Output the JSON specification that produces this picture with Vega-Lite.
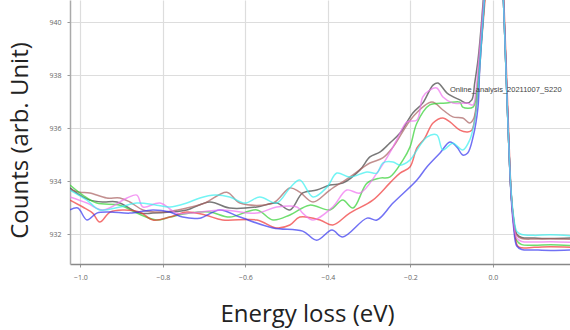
{
  "$schema": "https://vega.github.io/schema/vega-lite/v6.json",
  "width": 500,
  "height": 264,
  "autosize": "none",
  "padding": {"left": 70, "top": 0, "right": 0, "bottom": 66},
  "background": "white",
  "config": {"view": {"stroke": null}, "font": "Open Sans"},
  "datasets": {
    "spectra": [
      {"series":"black","energy":-1.025,"counts":933.74},{"series":"black","energy":-1.001,"counts":933.47},{"series":"black","energy":-0.977,"counts":933.28},{"series":"black","energy":-0.945,"counts":933.21},{"series":"black","energy":-0.911,"counts":933.21},{"series":"black","energy":-0.856,"counts":932.79},{"series":"black","energy":-0.824,"counts":932.79},{"series":"black","energy":-0.783,"counts":932.83},{"series":"black","energy":-0.742,"counts":932.91},{"series":"black","energy":-0.686,"counts":933.21},{"series":"black","energy":-0.638,"counts":932.98},{"series":"black","energy":-0.572,"counts":933.02},{"series":"black","energy":-0.524,"counts":933.17},{"series":"black","energy":-0.492,"counts":932.91},{"series":"black","energy":-0.461,"counts":933.55},{"series":"black","energy":-0.427,"counts":933.66},{"series":"black","energy":-0.395,"counts":933.85},{"series":"black","energy":-0.364,"counts":933.92},{"series":"black","energy":-0.322,"counts":934.42},{"series":"black","energy":-0.298,"counts":934.91},{"series":"black","energy":-0.274,"counts":935.09},{"series":"black","energy":-0.25,"counts":935.43},{"series":"black","energy":-0.225,"counts":935.81},{"series":"black","energy":-0.194,"counts":936.57},{"series":"black","energy":-0.17,"counts":936.94},{"series":"black","energy":-0.145,"counts":937.62},{"series":"black","energy":-0.133,"counts":937.7},{"series":"black","energy":-0.111,"counts":937.32},{"series":"black","energy":-0.08,"counts":937.06},{"series":"black","energy":-0.063,"counts":936.94},{"series":"black","energy":-0.051,"counts":937.06},{"series":"black","energy":-0.044,"counts":937.7},{"series":"black","energy":-0.036,"counts":938.57},{"series":"black","energy":-0.027,"counts":940.08},{"series":"black","energy":-0.017,"counts":942.34},
      {"series":"black","energy":-0.008,"counts":946},{"series":"black","energy":0.0,"counts":949},{"series":"black","energy":0.012,"counts":946},{"series":"black","energy":0.024,"counts":941.5},{"series":"black","energy":0.03,"counts":939.0},{"series":"black","energy":0.037,"counts":936.0},{"series":"black","energy":0.044,"counts":933.6},{"series":"black","energy":0.05,"counts":932.6},{"series":"black","energy":0.058,"counts":932.0},{"series":"black","energy":0.07,"counts":931.87},{"series":"black","energy":0.1,"counts":931.85},{"series":"black","energy":0.14,"counts":931.83},{"series":"black","energy":0.19,"counts":931.85},

      {"series":"brown","energy":-1.025,"counts":933.66},{"series":"brown","energy":-1.001,"counts":933.58},{"series":"brown","energy":-0.977,"counts":933.55},{"series":"brown","energy":-0.936,"counts":933.36},{"series":"brown","energy":-0.904,"counts":933.36},{"series":"brown","energy":-0.88,"counts":933.21},{"series":"brown","energy":-0.848,"counts":932.91},{"series":"brown","energy":-0.8,"counts":932.83},{"series":"brown","energy":-0.742,"counts":932.98},{"series":"brown","energy":-0.698,"counts":933.17},{"series":"brown","energy":-0.645,"counts":933.58},{"series":"brown","energy":-0.613,"counts":933.17},{"series":"brown","energy":-0.533,"counts":933.17},{"series":"brown","energy":-0.492,"counts":933.74},{"series":"brown","energy":-0.468,"counts":933.58},{"series":"brown","energy":-0.436,"counts":933.21},{"series":"brown","energy":-0.395,"counts":933.66},{"series":"brown","energy":-0.347,"counts":934.15},{"series":"brown","energy":-0.298,"counts":934.68},{"series":"brown","energy":-0.267,"counts":934.87},{"series":"brown","energy":-0.242,"counts":935.28},{"series":"brown","energy":-0.194,"counts":936.42},{"series":"brown","energy":-0.148,"counts":936.98},{"series":"brown","energy":-0.121,"counts":936.68},{"series":"brown","energy":-0.097,"counts":936.42},{"series":"brown","energy":-0.073,"counts":936.38},{"series":"brown","energy":-0.056,"counts":936.19},{"series":"brown","energy":-0.046,"counts":936.38},{"series":"brown","energy":-0.039,"counts":937.06},{"series":"brown","energy":-0.032,"counts":938.57},{"series":"brown","energy":-0.022,"counts":940.45},{"series":"brown","energy":-0.015,"counts":942.34},
      {"series":"brown","energy":-0.008,"counts":946},{"series":"brown","energy":0.0,"counts":949},{"series":"brown","energy":0.012,"counts":946},{"series":"brown","energy":0.024,"counts":941.5},{"series":"brown","energy":0.03,"counts":939.0},{"series":"brown","energy":0.037,"counts":936.0},{"series":"brown","energy":0.044,"counts":933.6},{"series":"brown","energy":0.05,"counts":932.6},{"series":"brown","energy":0.058,"counts":931.95},{"series":"brown","energy":0.07,"counts":931.83},{"series":"brown","energy":0.1,"counts":931.81},{"series":"brown","energy":0.14,"counts":931.82},{"series":"brown","energy":0.19,"counts":931.8},

      {"series":"green","energy":-1.025,"counts":933.85},{"series":"green","energy":-0.994,"counts":933.47},{"series":"green","energy":-0.96,"counts":933.17},{"series":"green","energy":-0.904,"counts":933.09},{"series":"green","energy":-0.863,"counts":932.79},{"series":"green","energy":-0.815,"counts":932.53},{"series":"green","energy":-0.783,"counts":932.64},{"series":"green","energy":-0.735,"counts":932.79},{"series":"green","energy":-0.686,"counts":932.83},{"series":"green","energy":-0.638,"counts":932.64},{"series":"green","energy":-0.572,"counts":932.91},{"series":"green","energy":-0.533,"counts":932.53},{"series":"green","energy":-0.492,"counts":932.72},{"series":"green","energy":-0.444,"counts":933.09},{"series":"green","energy":-0.395,"counts":932.91},{"series":"green","energy":-0.364,"counts":933.28},{"series":"green","energy":-0.339,"counts":932.98},{"series":"green","energy":-0.305,"counts":933.92},{"series":"green","energy":-0.274,"counts":934.11},{"series":"green","energy":-0.25,"counts":934.15},{"series":"green","energy":-0.218,"counts":934.79},{"series":"green","energy":-0.201,"counts":935.28},{"series":"green","energy":-0.184,"counts":936.19},{"series":"green","energy":-0.153,"counts":936.87},{"series":"green","energy":-0.112,"counts":936.94},{"series":"green","energy":-0.08,"counts":936.98},{"series":"green","energy":-0.073,"counts":936.79},{"series":"green","energy":-0.048,"counts":936.79},{"series":"green","energy":-0.039,"counts":937.43},{"series":"green","energy":-0.032,"counts":938.57},{"series":"green","energy":-0.022,"counts":940.45},{"series":"green","energy":-0.015,"counts":942.34},
      {"series":"green","energy":-0.008,"counts":946},{"series":"green","energy":0.0,"counts":949},{"series":"green","energy":0.012,"counts":946},{"series":"green","energy":0.024,"counts":941.5},{"series":"green","energy":0.03,"counts":939.0},{"series":"green","energy":0.037,"counts":936.0},{"series":"green","energy":0.044,"counts":933.6},{"series":"green","energy":0.05,"counts":932.5},{"series":"green","energy":0.058,"counts":931.75},{"series":"green","energy":0.07,"counts":931.6},{"series":"green","energy":0.1,"counts":931.58},{"series":"green","energy":0.14,"counts":931.6},{"series":"green","energy":0.19,"counts":931.57},

      {"series":"red","energy":-1.025,"counts":933.28},{"series":"red","energy":-0.994,"counts":933.02},{"series":"red","energy":-0.97,"counts":932.79},{"series":"red","energy":-0.953,"counts":932.45},{"series":"red","energy":-0.928,"counts":932.83},{"series":"red","energy":-0.897,"counts":932.91},{"series":"red","energy":-0.856,"counts":932.83},{"series":"red","energy":-0.824,"counts":932.53},{"series":"red","energy":-0.783,"counts":932.64},{"series":"red","energy":-0.742,"counts":932.83},{"series":"red","energy":-0.698,"counts":932.72},{"series":"red","energy":-0.655,"counts":932.53},{"series":"red","energy":-0.572,"counts":932.53},{"series":"red","energy":-0.524,"counts":932.23},{"series":"red","energy":-0.492,"counts":932.34},{"series":"red","energy":-0.468,"counts":932.64},{"series":"red","energy":-0.419,"counts":932.53},{"series":"red","energy":-0.388,"counts":932.34},{"series":"red","energy":-0.347,"counts":932.79},{"series":"red","energy":-0.291,"counts":933.28},{"series":"red","energy":-0.25,"counts":933.92},{"series":"red","energy":-0.225,"counts":934.3},{"series":"red","energy":-0.201,"counts":934.53},{"series":"red","energy":-0.184,"counts":935.25},{"series":"red","energy":-0.165,"counts":935.62},{"series":"red","energy":-0.145,"counts":936.19},{"series":"red","energy":-0.121,"counts":936.38},{"series":"red","energy":-0.104,"counts":936.23},{"series":"red","energy":-0.08,"counts":935.92},{"series":"red","energy":-0.061,"counts":935.85},{"series":"red","energy":-0.051,"counts":935.92},{"series":"red","energy":-0.041,"counts":936.68},{"series":"red","energy":-0.034,"counts":937.81},{"series":"red","energy":-0.027,"counts":939.32},{"series":"red","energy":-0.019,"counts":940.83},{"series":"red","energy":-0.012,"counts":942.34},
      {"series":"red","energy":-0.005,"counts":946},{"series":"red","energy":0.002,"counts":949},{"series":"red","energy":0.014,"counts":946},{"series":"red","energy":0.025,"counts":941.5},{"series":"red","energy":0.031,"counts":939.0},{"series":"red","energy":0.038,"counts":936.0},{"series":"red","energy":0.045,"counts":933.4},{"series":"red","energy":0.052,"counts":932.2},{"series":"red","energy":0.06,"counts":931.55},{"series":"red","energy":0.07,"counts":931.48},{"series":"red","energy":0.1,"counts":931.5},{"series":"red","energy":0.14,"counts":931.52},{"series":"red","energy":0.19,"counts":931.5},

      {"series":"blue","energy":-1.025,"counts":932.91},{"series":"blue","energy":-1.006,"counts":932.98},{"series":"blue","energy":-0.984,"counts":932.53},{"series":"blue","energy":-0.96,"counts":932.79},{"series":"blue","energy":-0.928,"counts":932.83},{"series":"blue","energy":-0.88,"counts":932.79},{"series":"blue","energy":-0.824,"counts":932.91},{"series":"blue","energy":-0.783,"counts":932.83},{"series":"blue","energy":-0.752,"counts":932.64},{"series":"blue","energy":-0.71,"counts":932.6},{"series":"blue","energy":-0.662,"counts":932.91},{"series":"blue","energy":-0.613,"counts":932.64},{"series":"blue","energy":-0.533,"counts":932.23},{"series":"blue","energy":-0.461,"counts":932.11},{"series":"blue","energy":-0.427,"counts":931.77},{"series":"blue","energy":-0.39,"counts":932.15},{"series":"blue","energy":-0.364,"counts":931.89},{"series":"blue","energy":-0.305,"counts":932.6},{"series":"blue","energy":-0.281,"counts":932.53},{"series":"blue","energy":-0.242,"counts":933.17},{"series":"blue","energy":-0.184,"counts":934.04},{"series":"blue","energy":-0.16,"counts":934.53},{"series":"blue","energy":-0.128,"counts":935.06},{"series":"blue","energy":-0.104,"counts":935.47},{"series":"blue","energy":-0.087,"counts":935.28},{"series":"blue","energy":-0.073,"counts":934.98},{"series":"blue","energy":-0.061,"counts":935.06},{"series":"blue","energy":-0.048,"counts":935.66},{"series":"blue","energy":-0.036,"counts":936.79},{"series":"blue","energy":-0.032,"counts":938.19},{"series":"blue","energy":-0.024,"counts":940.08},{"series":"blue","energy":-0.015,"counts":942.34},
      {"series":"blue","energy":-0.008,"counts":946},{"series":"blue","energy":0.0,"counts":949},{"series":"blue","energy":0.012,"counts":946},{"series":"blue","energy":0.024,"counts":941.5},{"series":"blue","energy":0.03,"counts":939.0},{"series":"blue","energy":0.037,"counts":936.0},{"series":"blue","energy":0.044,"counts":933.5},{"series":"blue","energy":0.05,"counts":932.3},{"series":"blue","energy":0.058,"counts":931.55},{"series":"blue","energy":0.07,"counts":931.42},{"series":"blue","energy":0.1,"counts":931.4},{"series":"blue","energy":0.14,"counts":931.38},{"series":"blue","energy":0.19,"counts":931.4},

      {"series":"magenta","energy":-1.025,"counts":933.4},{"series":"magenta","energy":-0.984,"counts":933.17},{"series":"magenta","energy":-0.945,"counts":932.91},{"series":"magenta","energy":-0.887,"counts":933.36},{"series":"magenta","energy":-0.863,"counts":933.47},{"series":"magenta","energy":-0.848,"counts":933.02},{"series":"magenta","energy":-0.807,"counts":933.17},{"series":"magenta","energy":-0.766,"counts":932.79},{"series":"magenta","energy":-0.735,"counts":932.79},{"series":"magenta","energy":-0.655,"counts":932.91},{"series":"magenta","energy":-0.572,"counts":932.79},{"series":"magenta","energy":-0.524,"counts":933.02},{"series":"magenta","energy":-0.475,"counts":933.02},{"series":"magenta","energy":-0.461,"counts":932.79},{"series":"magenta","energy":-0.436,"counts":932.53},{"series":"magenta","energy":-0.388,"counts":933.02},{"series":"magenta","energy":-0.354,"counts":933.66},{"series":"magenta","energy":-0.322,"counts":933.55},{"series":"magenta","energy":-0.281,"counts":934.3},{"series":"magenta","energy":-0.25,"counts":935.06},{"series":"magenta","energy":-0.233,"counts":935.55},{"series":"magenta","energy":-0.208,"counts":936.23},{"series":"magenta","energy":-0.184,"counts":936.3},{"series":"magenta","energy":-0.17,"counts":937.17},{"series":"magenta","energy":-0.153,"counts":937.43},{"series":"magenta","energy":-0.136,"counts":937.51},{"series":"magenta","energy":-0.121,"counts":937.17},{"series":"magenta","energy":-0.097,"counts":936.94},{"series":"magenta","energy":-0.063,"counts":936.94},{"series":"magenta","energy":-0.048,"counts":936.87},{"series":"magenta","energy":-0.041,"counts":937.43},{"series":"magenta","energy":-0.034,"counts":938.57},{"series":"magenta","energy":-0.024,"counts":940.45},{"series":"magenta","energy":-0.015,"counts":942.34},
      {"series":"magenta","energy":-0.008,"counts":946},{"series":"magenta","energy":0.0,"counts":949},{"series":"magenta","energy":0.012,"counts":946},{"series":"magenta","energy":0.024,"counts":941.5},{"series":"magenta","energy":0.03,"counts":939.0},{"series":"magenta","energy":0.037,"counts":936.0},{"series":"magenta","energy":0.044,"counts":933.6},{"series":"magenta","energy":0.05,"counts":932.5},{"series":"magenta","energy":0.058,"counts":931.85},{"series":"magenta","energy":0.07,"counts":931.72},{"series":"magenta","energy":0.1,"counts":931.7},{"series":"magenta","energy":0.14,"counts":931.71},{"series":"magenta","energy":0.19,"counts":931.69},

      {"series":"cyan","energy":-1.025,"counts":933.66},{"series":"cyan","energy":-0.984,"counts":933.28},{"series":"cyan","energy":-0.953,"counts":932.91},{"series":"cyan","energy":-0.904,"counts":933.02},{"series":"cyan","energy":-0.863,"counts":933.17},{"series":"cyan","energy":-0.815,"counts":933.09},{"series":"cyan","energy":-0.783,"counts":933.02},{"series":"cyan","energy":-0.742,"counts":933.17},{"series":"cyan","energy":-0.71,"counts":933.36},{"series":"cyan","energy":-0.674,"counts":933.47},{"series":"cyan","energy":-0.638,"counts":933.4},{"series":"cyan","energy":-0.601,"counts":933.17},{"series":"cyan","energy":-0.565,"counts":933.4},{"series":"cyan","energy":-0.524,"counts":933.17},{"series":"cyan","energy":-0.492,"counts":933.74},{"series":"cyan","energy":-0.468,"counts":934.04},{"series":"cyan","energy":-0.436,"counts":933.4},{"series":"cyan","energy":-0.402,"counts":933.77},{"series":"cyan","energy":-0.378,"counts":934.3},{"series":"cyan","energy":-0.347,"counts":934.15},{"series":"cyan","energy":-0.305,"counts":934.34},{"series":"cyan","energy":-0.281,"counts":934.3},{"series":"cyan","energy":-0.267,"counts":934.68},{"series":"cyan","energy":-0.242,"counts":934.72},{"series":"cyan","energy":-0.225,"counts":934.6},{"series":"cyan","energy":-0.201,"counts":934.79},{"series":"cyan","energy":-0.184,"counts":935.17},{"series":"cyan","energy":-0.16,"counts":935.66},{"series":"cyan","energy":-0.136,"counts":935.74},{"series":"cyan","energy":-0.121,"counts":935.17},{"series":"cyan","energy":-0.097,"counts":935.43},{"series":"cyan","energy":-0.073,"counts":935.17},{"series":"cyan","energy":-0.056,"counts":935.55},{"series":"cyan","energy":-0.044,"counts":936.3},{"series":"cyan","energy":-0.036,"counts":937.43},{"series":"cyan","energy":-0.029,"counts":938.94},{"series":"cyan","energy":-0.022,"counts":940.45},{"series":"cyan","energy":-0.015,"counts":942.34},
      {"series":"cyan","energy":-0.008,"counts":946},{"series":"cyan","energy":0.0,"counts":949},{"series":"cyan","energy":0.012,"counts":946},{"series":"cyan","energy":0.024,"counts":941.5},{"series":"cyan","energy":0.03,"counts":939.0},{"series":"cyan","energy":0.037,"counts":936.0},{"series":"cyan","energy":0.044,"counts":933.7},{"series":"cyan","energy":0.05,"counts":932.7},{"series":"cyan","energy":0.058,"counts":932.1},{"series":"cyan","energy":0.07,"counts":931.98},{"series":"cyan","energy":0.1,"counts":931.95},{"series":"cyan","energy":0.14,"counts":931.97},{"series":"cyan","energy":0.19,"counts":931.93}
    ],
    "note": [
      {"label": "Online_analysis_20211007_S220", "energy": -0.104, "counts": 937.45}
    ]
  },
  "layer": [
    {
      "data": {"name": "spectra"},
      "mark": {"type": "line", "clip": true, "interpolate": "catmull-rom", "strokeWidth": 1.5, "opacity": 0.7},
      "encoding": {
        "x": {
          "field": "energy", "type": "quantitative",
          "scale": {"domain": [-1.025, 0.187], "nice": false, "zero": false},
          "axis": {
            "values": [-1.0, -0.8, -0.6, -0.4, -0.2, 0.0],
            "format": ".1f",
            "title": "Energy loss (eV)",
            "titleFont": "Open Sans", "titleFontSize": 24, "titleFontWeight": "normal", "titleColor": "#222222",
            "titleX": 237, "titleY": 57, "titleBaseline": "alphabetic", "titleAnchor": null, "titleAlign": "center",
            "labelFontSize": 7, "labelColor": "#666666", "labelPadding": 6,
            "tickSize": 3, "tickColor": "#999999",
            "domainColor": "#888888", "domainWidth": 1.5,
            "grid": true, "gridColor": "#dddddd", "gridWidth": 1.2
          }
        },
        "y": {
          "field": "counts", "type": "quantitative",
          "scale": {"domain": [930.87, 940.83], "nice": false, "zero": false},
          "axis": {
            "values": [932, 934, 936, 938, 940],
            "title": "Counts (arb. Unit)",
            "titleFont": "Open Sans", "titleFontSize": 24, "titleFontWeight": "normal", "titleColor": "#222222",
            "titleAngle": -90, "titleX": -43, "titleY": 140, "titleBaseline": "alphabetic", "titleAlign": "center", "titleAnchor": null,
            "labelFontSize": 7, "labelColor": "#666666", "labelPadding": 6,
            "tickSize": 3, "tickColor": "#999999",
            "domainColor": "#aaaaaa", "domainWidth": 1.5,
            "grid": true, "gridColor": "#dddddd", "gridWidth": 1.2
          }
        },
        "color": {
          "field": "series", "type": "nominal",
          "scale": {
            "domain": ["cyan", "magenta", "green", "brown", "red", "blue", "black"],
            "range": ["#38f0f0", "#f070f0", "#30d030", "#a86060", "#f03535", "#3535f0", "#404040"]
          },
          "legend": null
        }
      }
    },
    {
      "data": {"name": "note"},
      "mark": {"type": "text", "align": "left", "baseline": "middle", "fontSize": 7.5, "color": "#444444", "font": "Liberation Sans"},
      "encoding": {
        "x": {"field": "energy", "type": "quantitative"},
        "y": {"field": "counts", "type": "quantitative"},
        "text": {"field": "label"}
      }
    }
  ]
}
